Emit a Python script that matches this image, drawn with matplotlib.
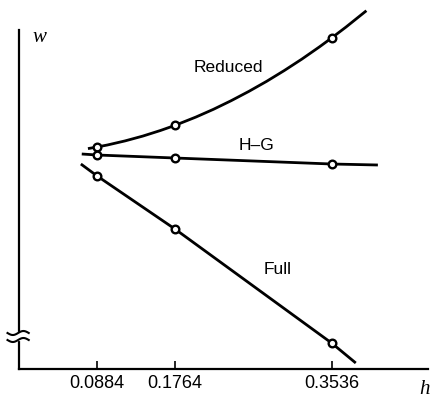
import numpy as np
import matplotlib
matplotlib.use("Agg")
import matplotlib.pyplot as plt

plt.rcParams['font.family'] = ['Liberation Sans', 'DejaVu Sans']

# mesh sizes where the three element types were computed
h_marks = [0.0884, 0.1764, 0.3536]
tick_labels = ['0.0884', '0.1764', '0.3536']

# Reduced integration (curve)
reduced_h = [0.078, 0.0884, 0.10, 0.12, 0.14, 0.16, 0.1764, 0.20, 0.22,
             0.24, 0.26, 0.28, 0.30, 0.32, 0.34, 0.3536, 0.37, 0.393]
reduced_w = [2.204, 2.220, 2.240, 2.281, 2.329, 2.385, 2.436, 2.519, 2.597,
             2.683, 2.776, 2.876, 2.984, 3.099, 3.222, 3.310, 3.420, 3.583]
reduced_pts = [2.220, 2.436, 3.310]

# H-G element
hg_h = [0.071, 0.0884, 0.1764, 0.3536, 0.406]
hg_w = [2.15, 2.14, 2.11, 2.05, 2.04]
hg_pts = [2.14, 2.11, 2.05]

# Full integration
full_h = [0.070, 0.0884, 0.1764, 0.3536, 0.381]
full_w = [2.05, 1.93, 1.40, 0.26, 0.06]
full_pts = [1.93, 1.40, 0.26]

fig = plt.figure(figsize=(4.4, 4.01), dpi=100)
ax = fig.add_axes([19 / 440, 32 / 401, (428 - 19) / 440, (369 - 5) / 401])
ax.set_xlim(0, 0.4627)
ax.set_ylim(0, 3.64)

for hs, ws, pts in [(reduced_h, reduced_w, reduced_pts),
                    (hg_h, hg_w, hg_pts),
                    (full_h, full_w, full_pts)]:
    ax.plot(hs, ws, color='black', lw=2.0, solid_capstyle='butt',
            solid_joinstyle='round', zorder=2)
    ax.plot(h_marks, pts, 'o', ms=5.5, mfc='white', mec='black', mew=1.7, zorder=3)

ax.text(0.237, 3.02, 'Reduced', fontsize=12.5, ha='center', va='center')
ax.text(0.269, 2.24, 'H\u2013G', fontsize=12.5, ha='center', va='center')
ax.text(0.293, 0.99, 'Full', fontsize=12.5, ha='center', va='center')

# axis letters
ax.text(0.015, 3.32, 'w', fontsize=15, family='Liberation Serif', style='italic',
        ha='left', va='center')
ax.text(0.459, -0.21, 'h', fontsize=15, family='Liberation Serif', style='italic',
        ha='center', va='center', clip_on=False)

for side in ['top', 'right']:
    ax.spines[side].set_visible(False)
ax.spines['left'].set_bounds(0, 3.39)
ax.spines['left'].set_linewidth(1.6)
ax.spines['bottom'].set_linewidth(1.6)

ax.set_xticks(h_marks)
ax.set_xticklabels(tick_labels, fontsize=13)
ax.tick_params(axis='x', direction='in', length=6, width=1.2, pad=4)
ax.set_yticks([])

# axis break marks on the w axis
t = np.linspace(-1, 1, 40)
ax.plot([0, 0], [0.30, 0.35], color='white', lw=3, clip_on=False, zorder=3)
for yb in [0.36, 0.29]:
    xs = -0.001 + 0.012 * t
    ys = yb + 0.02 * np.sin(np.pi * t)
    ax.plot(xs, ys, color='black', lw=1.5, clip_on=False, zorder=4)

fig.savefig('out.png', dpi=100)
